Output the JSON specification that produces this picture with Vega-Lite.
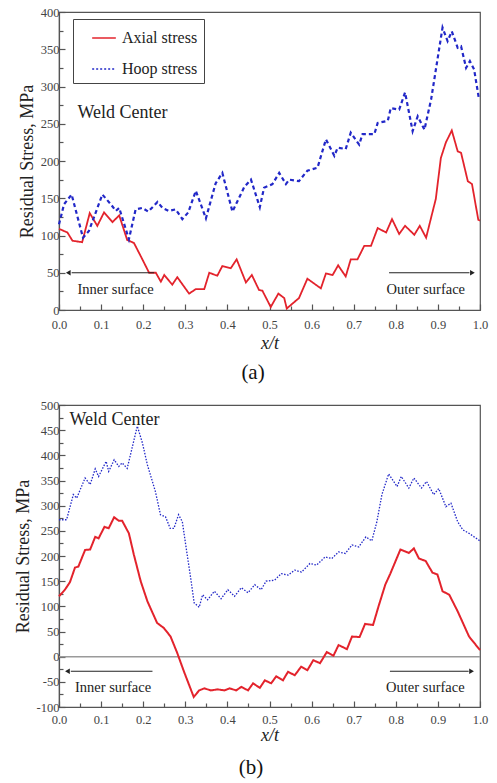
{
  "$schema": "https://vega.github.io/schema/vega-lite/v6.json",
  "padding": {"left": 13, "top": 5, "right": 11, "bottom": 2},
  "background": "white",
  "spacing": 14,
  "config": {
    "font": "Liberation Serif, DejaVu Serif, serif",
    "view": {"stroke": "#555", "strokeWidth": 1.2},
    "style": {
      "guide-label": {"font": "Liberation Serif, DejaVu Serif, serif"},
      "guide-title": {"font": "Liberation Serif, DejaVu Serif, serif"},
      "group-title": {"font": "Liberation Serif, DejaVu Serif, serif"}
    },
    "axis": {
      "grid": false,
      "labelFont": "Liberation Serif, DejaVu Serif, serif",
      "labelFontSize": 12.5,
      "labelColor": "#444",
      "domainColor": "#555",
      "domainWidth": 1.2,
      "tickColor": "#555",
      "tickWidth": 1.2,
      "titleFont": "Liberation Serif, DejaVu Serif, serif",
      "titleFontWeight": "normal",
      "titleFontSize": 18,
      "titleColor": "#222"
    },
    "text": {"font": "Liberation Serif, DejaVu Serif, serif"},
    "title": {"font": "Liberation Serif, DejaVu Serif, serif", "fontSize": 21, "fontWeight": "normal", "color": "#111"},
    "legend": {
      "orient": "none",
      "title": null,
      "strokeColor": "#444",
      "fillColor": "white",
      "padding": 6,
      "labelFont": "Liberation Serif, DejaVu Serif, serif",
      "labelFontSize": 16,
      "labelColor": "#222",
      "symbolType": "stroke",
      "symbolSize": 560,
      "symbolStrokeWidth": 1.5,
      "symbolOffset": 12,
      "rowPadding": 10,
      "labelOffset": 5,
      "labelExpr": "datum.label + '\u00a0\u00a0\u00a0\u00a0'"
    }
  },
  "datasets": {
    "a": [
      {"series": "Axial stress", "x": 0, "y": 109},
      {"series": "Axial stress", "x": 0.02, "y": 104},
      {"series": "Axial stress", "x": 0.032, "y": 93},
      {"series": "Axial stress", "x": 0.055, "y": 91},
      {"series": "Axial stress", "x": 0.073, "y": 130},
      {"series": "Axial stress", "x": 0.091, "y": 113},
      {"series": "Axial stress", "x": 0.107, "y": 131},
      {"series": "Axial stress", "x": 0.127, "y": 118},
      {"series": "Axial stress", "x": 0.143, "y": 127},
      {"series": "Axial stress", "x": 0.162, "y": 94},
      {"series": "Axial stress", "x": 0.178, "y": 90},
      {"series": "Axial stress", "x": 0.198, "y": 68},
      {"series": "Axial stress", "x": 0.214, "y": 50},
      {"series": "Axial stress", "x": 0.23, "y": 50},
      {"series": "Axial stress", "x": 0.242, "y": 38},
      {"series": "Axial stress", "x": 0.25, "y": 47},
      {"series": "Axial stress", "x": 0.269, "y": 34},
      {"series": "Axial stress", "x": 0.281, "y": 44},
      {"series": "Axial stress", "x": 0.309, "y": 22},
      {"series": "Axial stress", "x": 0.325, "y": 28},
      {"series": "Axial stress", "x": 0.345, "y": 28},
      {"series": "Axial stress", "x": 0.357, "y": 50},
      {"series": "Axial stress", "x": 0.376, "y": 46},
      {"series": "Axial stress", "x": 0.388, "y": 59},
      {"series": "Axial stress", "x": 0.408, "y": 56},
      {"series": "Axial stress", "x": 0.422, "y": 68},
      {"series": "Axial stress", "x": 0.444, "y": 37},
      {"series": "Axial stress", "x": 0.458, "y": 47},
      {"series": "Axial stress", "x": 0.475, "y": 27},
      {"series": "Axial stress", "x": 0.483, "y": 26},
      {"series": "Axial stress", "x": 0.503, "y": 4},
      {"series": "Axial stress", "x": 0.521, "y": 22},
      {"series": "Axial stress", "x": 0.535, "y": 16},
      {"series": "Axial stress", "x": 0.541, "y": 2},
      {"series": "Axial stress", "x": 0.57, "y": 16},
      {"series": "Axial stress", "x": 0.59, "y": 42},
      {"series": "Axial stress", "x": 0.622, "y": 29},
      {"series": "Axial stress", "x": 0.634, "y": 49},
      {"series": "Axial stress", "x": 0.65, "y": 47},
      {"series": "Axial stress", "x": 0.663, "y": 60},
      {"series": "Axial stress", "x": 0.681, "y": 45},
      {"series": "Axial stress", "x": 0.693, "y": 68},
      {"series": "Axial stress", "x": 0.709, "y": 68},
      {"series": "Axial stress", "x": 0.725, "y": 86},
      {"series": "Axial stress", "x": 0.741, "y": 86},
      {"series": "Axial stress", "x": 0.757, "y": 110},
      {"series": "Axial stress", "x": 0.777, "y": 104},
      {"series": "Axial stress", "x": 0.791, "y": 122},
      {"series": "Axial stress", "x": 0.808, "y": 102},
      {"series": "Axial stress", "x": 0.822, "y": 113},
      {"series": "Axial stress", "x": 0.844, "y": 101},
      {"series": "Axial stress", "x": 0.857, "y": 113},
      {"series": "Axial stress", "x": 0.872, "y": 97},
      {"series": "Axial stress", "x": 0.887, "y": 131},
      {"series": "Axial stress", "x": 0.895, "y": 149},
      {"series": "Axial stress", "x": 0.907, "y": 204},
      {"series": "Axial stress", "x": 0.919, "y": 225},
      {"series": "Axial stress", "x": 0.933, "y": 241},
      {"series": "Axial stress", "x": 0.947, "y": 213},
      {"series": "Axial stress", "x": 0.955, "y": 211},
      {"series": "Axial stress", "x": 0.971, "y": 173},
      {"series": "Axial stress", "x": 0.981, "y": 169},
      {"series": "Axial stress", "x": 0.99, "y": 140},
      {"series": "Axial stress", "x": 0.996, "y": 121},
      {"series": "Axial stress", "x": 1.0, "y": 120},
      {"series": "Hoop stress", "x": 0, "y": 115},
      {"series": "Hoop stress", "x": 0.012, "y": 142},
      {"series": "Hoop stress", "x": 0.03, "y": 155},
      {"series": "Hoop stress", "x": 0.057, "y": 97},
      {"series": "Hoop stress", "x": 0.071, "y": 106},
      {"series": "Hoop stress", "x": 0.103, "y": 155},
      {"series": "Hoop stress", "x": 0.123, "y": 142},
      {"series": "Hoop stress", "x": 0.135, "y": 133},
      {"series": "Hoop stress", "x": 0.143, "y": 137},
      {"series": "Hoop stress", "x": 0.166, "y": 95},
      {"series": "Hoop stress", "x": 0.182, "y": 135},
      {"series": "Hoop stress", "x": 0.198, "y": 137},
      {"series": "Hoop stress", "x": 0.212, "y": 132},
      {"series": "Hoop stress", "x": 0.234, "y": 145},
      {"series": "Hoop stress", "x": 0.246, "y": 137},
      {"series": "Hoop stress", "x": 0.261, "y": 133},
      {"series": "Hoop stress", "x": 0.277, "y": 135},
      {"series": "Hoop stress", "x": 0.293, "y": 122},
      {"series": "Hoop stress", "x": 0.307, "y": 131},
      {"series": "Hoop stress", "x": 0.325, "y": 160},
      {"series": "Hoop stress", "x": 0.349, "y": 123},
      {"series": "Hoop stress", "x": 0.372, "y": 170},
      {"series": "Hoop stress", "x": 0.388, "y": 184},
      {"series": "Hoop stress", "x": 0.412, "y": 132},
      {"series": "Hoop stress", "x": 0.44, "y": 165},
      {"series": "Hoop stress", "x": 0.456, "y": 175},
      {"series": "Hoop stress", "x": 0.477, "y": 138},
      {"series": "Hoop stress", "x": 0.487, "y": 164},
      {"series": "Hoop stress", "x": 0.507, "y": 169},
      {"series": "Hoop stress", "x": 0.523, "y": 184},
      {"series": "Hoop stress", "x": 0.539, "y": 169},
      {"series": "Hoop stress", "x": 0.547, "y": 175},
      {"series": "Hoop stress", "x": 0.57, "y": 173},
      {"series": "Hoop stress", "x": 0.59, "y": 187},
      {"series": "Hoop stress", "x": 0.614, "y": 191},
      {"series": "Hoop stress", "x": 0.634, "y": 229},
      {"series": "Hoop stress", "x": 0.654, "y": 207},
      {"series": "Hoop stress", "x": 0.662, "y": 218},
      {"series": "Hoop stress", "x": 0.681, "y": 216},
      {"series": "Hoop stress", "x": 0.693, "y": 238},
      {"series": "Hoop stress", "x": 0.713, "y": 222},
      {"series": "Hoop stress", "x": 0.721, "y": 236},
      {"series": "Hoop stress", "x": 0.749, "y": 236},
      {"series": "Hoop stress", "x": 0.757, "y": 251},
      {"series": "Hoop stress", "x": 0.781, "y": 254},
      {"series": "Hoop stress", "x": 0.788, "y": 271},
      {"series": "Hoop stress", "x": 0.808, "y": 269},
      {"series": "Hoop stress", "x": 0.822, "y": 292},
      {"series": "Hoop stress", "x": 0.84, "y": 240},
      {"series": "Hoop stress", "x": 0.852, "y": 260},
      {"series": "Hoop stress", "x": 0.868, "y": 242},
      {"series": "Hoop stress", "x": 0.884, "y": 283},
      {"series": "Hoop stress", "x": 0.911, "y": 379},
      {"series": "Hoop stress", "x": 0.923, "y": 361},
      {"series": "Hoop stress", "x": 0.933, "y": 374},
      {"series": "Hoop stress", "x": 0.947, "y": 352},
      {"series": "Hoop stress", "x": 0.955, "y": 354},
      {"series": "Hoop stress", "x": 0.967, "y": 325},
      {"series": "Hoop stress", "x": 0.976, "y": 334},
      {"series": "Hoop stress", "x": 0.986, "y": 323},
      {"series": "Hoop stress", "x": 0.997, "y": 285},
      {"series": "Hoop stress", "x": 1.0, "y": 283}
    ],
    "b": [
      {"series": "Axial stress", "x": 0, "y": 120},
      {"series": "Axial stress", "x": 0.014, "y": 133},
      {"series": "Axial stress", "x": 0.026, "y": 148},
      {"series": "Axial stress", "x": 0.038, "y": 177},
      {"series": "Axial stress", "x": 0.046, "y": 179},
      {"series": "Axial stress", "x": 0.062, "y": 212},
      {"series": "Axial stress", "x": 0.074, "y": 213},
      {"series": "Axial stress", "x": 0.086, "y": 238},
      {"series": "Axial stress", "x": 0.094, "y": 235},
      {"series": "Axial stress", "x": 0.108, "y": 258},
      {"series": "Axial stress", "x": 0.118, "y": 255},
      {"series": "Axial stress", "x": 0.131, "y": 277},
      {"series": "Axial stress", "x": 0.142, "y": 270},
      {"series": "Axial stress", "x": 0.15, "y": 270},
      {"series": "Axial stress", "x": 0.166, "y": 245},
      {"series": "Axial stress", "x": 0.178, "y": 202},
      {"series": "Axial stress", "x": 0.194, "y": 150},
      {"series": "Axial stress", "x": 0.21, "y": 110},
      {"series": "Axial stress", "x": 0.233, "y": 67},
      {"series": "Axial stress", "x": 0.249, "y": 57},
      {"series": "Axial stress", "x": 0.265, "y": 40},
      {"series": "Axial stress", "x": 0.281, "y": 7},
      {"series": "Axial stress", "x": 0.297, "y": -30},
      {"series": "Axial stress", "x": 0.32, "y": -80},
      {"series": "Axial stress", "x": 0.333, "y": -67},
      {"series": "Axial stress", "x": 0.345, "y": -63},
      {"series": "Axial stress", "x": 0.361, "y": -67},
      {"series": "Axial stress", "x": 0.377, "y": -65},
      {"series": "Axial stress", "x": 0.393, "y": -67},
      {"series": "Axial stress", "x": 0.405, "y": -63},
      {"series": "Axial stress", "x": 0.421, "y": -67},
      {"series": "Axial stress", "x": 0.433, "y": -60},
      {"series": "Axial stress", "x": 0.449, "y": -67},
      {"series": "Axial stress", "x": 0.461, "y": -53},
      {"series": "Axial stress", "x": 0.477, "y": -62},
      {"series": "Axial stress", "x": 0.489, "y": -47},
      {"series": "Axial stress", "x": 0.504, "y": -53},
      {"series": "Axial stress", "x": 0.516, "y": -39},
      {"series": "Axial stress", "x": 0.532, "y": -47},
      {"series": "Axial stress", "x": 0.544, "y": -30},
      {"series": "Axial stress", "x": 0.56, "y": -37},
      {"series": "Axial stress", "x": 0.575, "y": -20},
      {"series": "Axial stress", "x": 0.59, "y": -27},
      {"series": "Axial stress", "x": 0.604, "y": -7},
      {"series": "Axial stress", "x": 0.62, "y": -13},
      {"series": "Axial stress", "x": 0.636, "y": 9},
      {"series": "Axial stress", "x": 0.652, "y": 2},
      {"series": "Axial stress", "x": 0.664, "y": 23},
      {"series": "Axial stress", "x": 0.684, "y": 15},
      {"series": "Axial stress", "x": 0.696, "y": 40},
      {"series": "Axial stress", "x": 0.714, "y": 39},
      {"series": "Axial stress", "x": 0.727, "y": 65},
      {"series": "Axial stress", "x": 0.746, "y": 63},
      {"series": "Axial stress", "x": 0.759, "y": 100},
      {"series": "Axial stress", "x": 0.775, "y": 143},
      {"series": "Axial stress", "x": 0.787, "y": 165},
      {"series": "Axial stress", "x": 0.811, "y": 213},
      {"series": "Axial stress", "x": 0.831, "y": 206},
      {"series": "Axial stress", "x": 0.843, "y": 215},
      {"series": "Axial stress", "x": 0.855, "y": 195},
      {"series": "Axial stress", "x": 0.871, "y": 190},
      {"series": "Axial stress", "x": 0.887, "y": 167},
      {"series": "Axial stress", "x": 0.899, "y": 163},
      {"series": "Axial stress", "x": 0.911, "y": 130},
      {"series": "Axial stress", "x": 0.927, "y": 123},
      {"series": "Axial stress", "x": 0.947, "y": 90},
      {"series": "Axial stress", "x": 0.974, "y": 40},
      {"series": "Axial stress", "x": 1.0, "y": 13},
      {"series": "Hoop stress", "x": 0, "y": 272},
      {"series": "Hoop stress", "x": 0.018, "y": 272},
      {"series": "Hoop stress", "x": 0.034, "y": 322},
      {"series": "Hoop stress", "x": 0.042, "y": 315},
      {"series": "Hoop stress", "x": 0.062, "y": 355},
      {"series": "Hoop stress", "x": 0.074, "y": 342},
      {"series": "Hoop stress", "x": 0.086, "y": 373},
      {"series": "Hoop stress", "x": 0.094, "y": 358},
      {"series": "Hoop stress", "x": 0.112, "y": 388},
      {"series": "Hoop stress", "x": 0.118, "y": 368},
      {"series": "Hoop stress", "x": 0.131, "y": 391},
      {"series": "Hoop stress", "x": 0.142, "y": 378},
      {"series": "Hoop stress", "x": 0.15, "y": 385},
      {"series": "Hoop stress", "x": 0.162, "y": 374},
      {"series": "Hoop stress", "x": 0.186, "y": 458},
      {"series": "Hoop stress", "x": 0.198, "y": 425},
      {"series": "Hoop stress", "x": 0.21, "y": 381},
      {"series": "Hoop stress", "x": 0.229, "y": 328},
      {"series": "Hoop stress", "x": 0.241, "y": 282},
      {"series": "Hoop stress", "x": 0.253, "y": 278},
      {"series": "Hoop stress", "x": 0.264, "y": 255},
      {"series": "Hoop stress", "x": 0.273, "y": 255},
      {"series": "Hoop stress", "x": 0.284, "y": 282},
      {"series": "Hoop stress", "x": 0.293, "y": 268},
      {"series": "Hoop stress", "x": 0.301, "y": 222},
      {"series": "Hoop stress", "x": 0.313, "y": 155},
      {"series": "Hoop stress", "x": 0.321, "y": 107},
      {"series": "Hoop stress", "x": 0.333, "y": 98},
      {"series": "Hoop stress", "x": 0.341, "y": 123},
      {"series": "Hoop stress", "x": 0.353, "y": 113},
      {"series": "Hoop stress", "x": 0.369, "y": 130},
      {"series": "Hoop stress", "x": 0.385, "y": 115},
      {"series": "Hoop stress", "x": 0.401, "y": 133},
      {"series": "Hoop stress", "x": 0.417, "y": 120},
      {"series": "Hoop stress", "x": 0.433, "y": 137},
      {"series": "Hoop stress", "x": 0.449, "y": 127},
      {"series": "Hoop stress", "x": 0.465, "y": 143},
      {"series": "Hoop stress", "x": 0.48, "y": 133},
      {"series": "Hoop stress", "x": 0.492, "y": 150},
      {"series": "Hoop stress", "x": 0.512, "y": 152},
      {"series": "Hoop stress", "x": 0.528, "y": 165},
      {"series": "Hoop stress", "x": 0.544, "y": 162},
      {"series": "Hoop stress", "x": 0.56, "y": 172},
      {"series": "Hoop stress", "x": 0.576, "y": 168},
      {"series": "Hoop stress", "x": 0.596, "y": 185},
      {"series": "Hoop stress", "x": 0.612, "y": 182},
      {"series": "Hoop stress", "x": 0.632, "y": 198},
      {"series": "Hoop stress", "x": 0.648, "y": 195},
      {"series": "Hoop stress", "x": 0.664, "y": 208},
      {"series": "Hoop stress", "x": 0.68, "y": 205},
      {"series": "Hoop stress", "x": 0.696, "y": 222},
      {"series": "Hoop stress", "x": 0.712, "y": 218},
      {"series": "Hoop stress", "x": 0.729, "y": 238},
      {"series": "Hoop stress", "x": 0.743, "y": 230},
      {"series": "Hoop stress", "x": 0.755, "y": 268},
      {"series": "Hoop stress", "x": 0.767, "y": 322},
      {"series": "Hoop stress", "x": 0.783, "y": 363},
      {"series": "Hoop stress", "x": 0.803, "y": 338},
      {"series": "Hoop stress", "x": 0.813, "y": 358},
      {"series": "Hoop stress", "x": 0.831, "y": 335},
      {"series": "Hoop stress", "x": 0.843, "y": 355},
      {"series": "Hoop stress", "x": 0.861, "y": 335},
      {"series": "Hoop stress", "x": 0.873, "y": 348},
      {"series": "Hoop stress", "x": 0.89, "y": 322},
      {"series": "Hoop stress", "x": 0.902, "y": 334},
      {"series": "Hoop stress", "x": 0.919, "y": 298},
      {"series": "Hoop stress", "x": 0.931, "y": 305},
      {"series": "Hoop stress", "x": 0.947, "y": 268},
      {"series": "Hoop stress", "x": 0.959, "y": 252},
      {"series": "Hoop stress", "x": 0.974, "y": 245},
      {"series": "Hoop stress", "x": 1.0, "y": 230}
    ]
  },
  "vconcat": [
    {
      "width": 421,
      "height": 298,
      "title": {"text": "(a)", "orient": "bottom", "frame": "bounds", "anchor": "middle", "offset": 9},
      "encoding": {
        "x": {
          "field": "x", "type": "quantitative",
          "scale": {"domain": [0, 1], "nice": false, "zero": false},
          "axis": {
            "title": "x/t", "titleFontStyle": "italic", "titlePadding": 4,
            "titleFont": "Liberation Serif, DejaVu Serif, serif",
            "labelFont": "Liberation Serif, DejaVu Serif, serif",
            "values": [0, 0.05, 0.1, 0.15, 0.2, 0.25, 0.3, 0.35, 0.4, 0.45, 0.5, 0.55, 0.6, 0.65, 0.7, 0.75, 0.8, 0.85, 0.9, 0.95, 1.0],
            "format": ".1f",
            "labelExpr": "round(datum.value * 20) % 2 === 0 ? datum.label : ''",
            "tickSize": {"condition": {"test": "round(datum.value * 20) % 2 === 0", "value": -6}, "value": -4},
            "labelPadding": 14,
            "labelFlush": false
          }
        },
        "y": {
          "field": "y", "type": "quantitative",
          "scale": {"domain": [0, 400], "nice": false},
          "axis": {
            "title": "Residual Stress, MPa", "titlePadding": 4,
            "titleFont": "Liberation Serif, DejaVu Serif, serif",
            "labelFont": "Liberation Serif, DejaVu Serif, serif",
            "values": [0, 25, 50, 75, 100, 125, 150, 175, 200, 225, 250, 275, 300, 325, 350, 375, 400],
            "labelExpr": "round(datum.value / 25) % 2 === 0 ? datum.label : ''",
            "tickSize": {"condition": {"test": "round(datum.value / 25) % 2 === 0", "value": -6}, "value": -4},
            "labelPadding": 6
          }
        }
      },
      "layer": [
        {
          "data": {"name": "a"},
          "transform": [{"filter": "datum.series === 'Axial stress'"}],
          "mark": {"type": "line", "strokeWidth": 1.8},
          "encoding": {
            "color": {"field": "series", "type": "nominal", "scale": {"domain": ["Axial stress", "Hoop stress"], "range": ["#e3232c", "#2228c8"]},
              "legend": {"legendX": 14, "legendY": 7}},
            "strokeDash": {"field": "series", "type": "nominal", "scale": {"domain": ["Axial stress", "Hoop stress"], "range": [[1, 0], [2, 2]]}}
          }
        },
        {
          "data": {"name": "a"},
          "transform": [{"filter": "datum.series === 'Hoop stress'"}],
          "mark": {"type": "line", "strokeWidth": 2.2, "strokeDash": [4, 3]},
          "encoding": {
            "color": {"field": "series", "type": "nominal"}
          }
        },
        {
          "data": {"values": [{"label": "Weld Center", "x": 0.044, "y": 265}]},
          "mark": {"type": "text", "align": "left", "baseline": "middle", "fontSize": 18, "color": "#222", "font": "Liberation Serif, DejaVu Serif, serif"},
          "encoding": {"text": {"field": "label"}}
        },
        {
          "data": {"values": [{"label": "Inner surface", "x": 0.044, "y": 27}, {"label": "Outer surface", "x": 0.778, "y": 27}]},
          "mark": {"type": "text", "align": "left", "baseline": "middle", "fontSize": 14.5, "color": "#222", "font": "Liberation Serif, DejaVu Serif, serif"},
          "encoding": {"text": {"field": "label"}}
        },
        {
          "data": {"values": [{"x": 0.03, "x2": 0.226, "y": 50}, {"x": 0.784, "x2": 0.975, "y": 50}]},
          "mark": {"type": "rule", "color": "#222", "strokeWidth": 1.1},
          "encoding": {"x2": {"field": "x2"}}
        },
        {
          "data": {"values": [{"x": 0.022, "y": 50}]},
          "mark": {"type": "point", "shape": "triangle-left", "filled": true, "color": "#222", "size": 30, "opacity": 1},
          "encoding": {}
        },
        {
          "data": {"values": [{"x": 0.982, "y": 50}]},
          "mark": {"type": "point", "shape": "triangle-right", "filled": true, "color": "#222", "size": 30, "opacity": 1},
          "encoding": {}
        }
      ]
    },
    {
      "width": 421,
      "height": 302,
      "title": {"text": "(b)", "orient": "bottom", "frame": "bounds", "anchor": "middle", "offset": 12},
      "encoding": {
        "x": {
          "field": "x", "type": "quantitative",
          "scale": {"domain": [0, 1], "nice": false, "zero": false},
          "axis": {
            "title": "x/t", "titleFontStyle": "italic", "titlePadding": 1,
            "titleFont": "Liberation Serif, DejaVu Serif, serif",
            "labelFont": "Liberation Serif, DejaVu Serif, serif",
            "values": [0, 0.05, 0.1, 0.15, 0.2, 0.25, 0.3, 0.35, 0.4, 0.45, 0.5, 0.55, 0.6, 0.65, 0.7, 0.75, 0.8, 0.85, 0.9, 0.95, 1.0],
            "format": ".1f",
            "labelExpr": "round(datum.value * 20) % 2 === 0 ? datum.label : ''",
            "tickSize": {"condition": {"test": "round(datum.value * 20) % 2 === 0", "value": -6}, "value": -4},
            "labelPadding": 12,
            "labelFlush": false
          }
        },
        "y": {
          "field": "y", "type": "quantitative",
          "scale": {"domain": [-100, 500], "nice": false},
          "axis": {
            "title": "Residual Stress, MPa", "titlePadding": 4,
            "titleFont": "Liberation Serif, DejaVu Serif, serif",
            "labelFont": "Liberation Serif, DejaVu Serif, serif",
            "values": [-100, -75, -50, -25, 0, 25, 50, 75, 100, 125, 150, 175, 200, 225, 250, 275, 300, 325, 350, 375, 400, 425, 450, 475, 500],
            "labelExpr": "round(datum.value / 25) % 2 === 0 ? replace(datum.label, '\u2212', '-') : ''",
            "tickSize": {"condition": {"test": "round(datum.value / 25) % 2 === 0", "value": -6}, "value": -4},
            "labelPadding": 6
          }
        }
      },
      "layer": [
        {
          "data": {"values": [{"y": 0}]},
          "mark": {"type": "rule", "color": "#9a9a9a", "strokeWidth": 1.5},
          "encoding": {"x": null}
        },
        {
          "data": {"name": "b"},
          "transform": [{"filter": "datum.series === 'Axial stress'"}],
          "mark": {"type": "line", "strokeWidth": 2},
          "encoding": {
            "color": {"field": "series", "type": "nominal", "scale": {"domain": ["Axial stress", "Hoop stress"], "range": ["#e3232c", "#4b4fd6"]},
              "legend": {"legendX": 111, "legendY": 7}},
            "strokeDash": {"field": "series", "type": "nominal", "scale": {"domain": ["Axial stress", "Hoop stress"], "range": [[1, 0], [2, 2]]}}
          }
        },
        {
          "data": {"name": "b"},
          "transform": [{"filter": "datum.series === 'Hoop stress'"}],
          "mark": {"type": "line", "strokeWidth": 1.3, "strokeDash": [1.5, 1.5]},
          "encoding": {
            "color": {"field": "series", "type": "nominal"}
          }
        },
        {
          "data": {"values": [{"label": "Weld Center", "x": 0.025, "y": 471}]},
          "mark": {"type": "text", "align": "left", "baseline": "middle", "fontSize": 18, "color": "#222", "font": "Liberation Serif, DejaVu Serif, serif"},
          "encoding": {"text": {"field": "label"}}
        },
        {
          "data": {"values": [{"label": "Inner surface", "x": 0.038, "y": -63}, {"label": "Outer surface", "x": 0.777, "y": -63}]},
          "mark": {"type": "text", "align": "left", "baseline": "middle", "fontSize": 14.5, "color": "#222", "font": "Liberation Serif, DejaVu Serif, serif"},
          "encoding": {"text": {"field": "label"}}
        },
        {
          "data": {"values": [{"x": 0.028, "x2": 0.222, "y": -29}, {"x": 0.786, "x2": 0.973, "y": -29}]},
          "mark": {"type": "rule", "color": "#222", "strokeWidth": 1.1},
          "encoding": {"x2": {"field": "x2"}}
        },
        {
          "data": {"values": [{"x": 0.02, "y": -29}]},
          "mark": {"type": "point", "shape": "triangle-left", "filled": true, "color": "#222", "size": 30, "opacity": 1},
          "encoding": {}
        },
        {
          "data": {"values": [{"x": 0.98, "y": -29}]},
          "mark": {"type": "point", "shape": "triangle-right", "filled": true, "color": "#222", "size": 30, "opacity": 1},
          "encoding": {}
        }
      ]
    }
  ]
}
